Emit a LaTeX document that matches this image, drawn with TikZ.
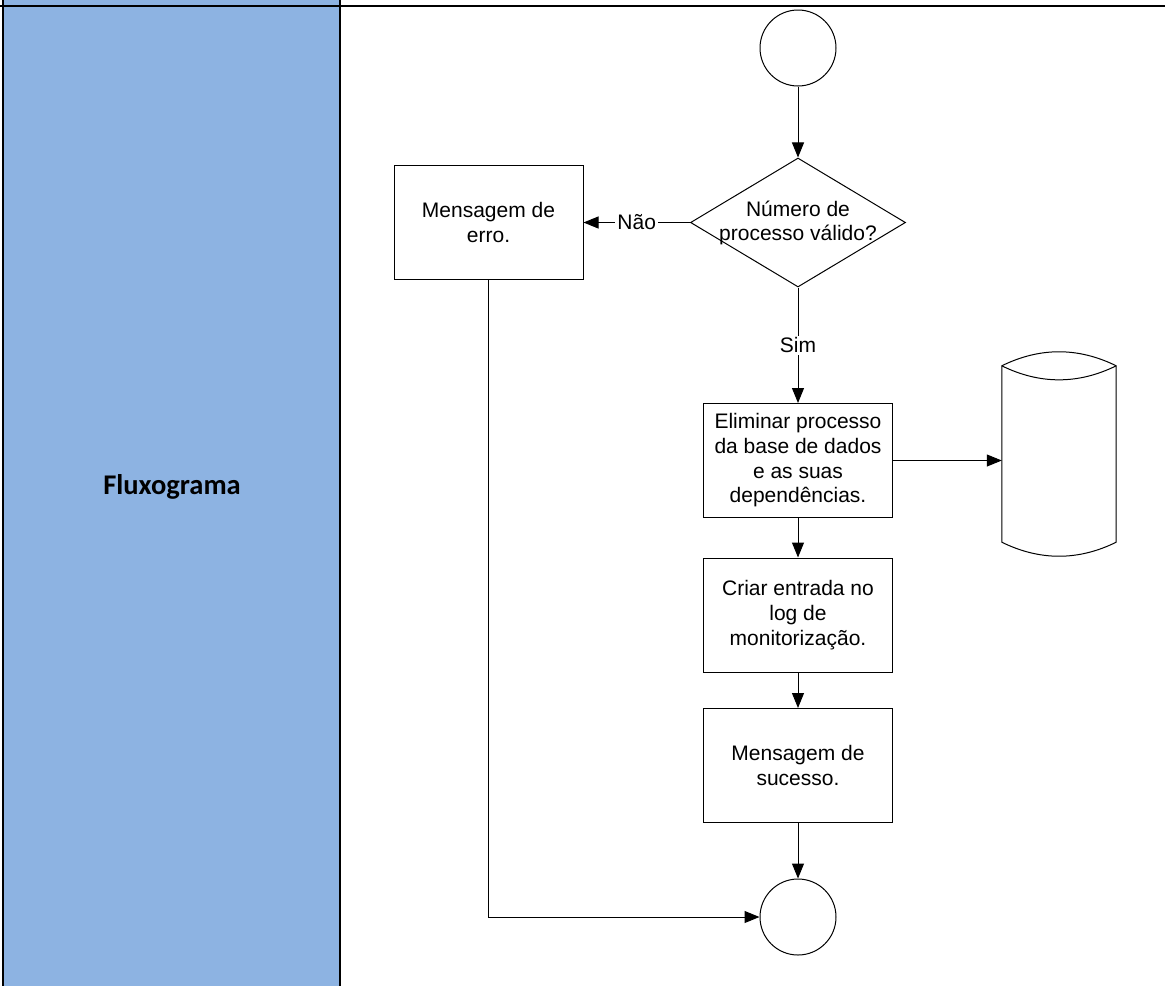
\documentclass[tikz,border=0pt]{standalone}
\usepackage{fontspec}
\setmainfont{Liberation Sans}
\newfontfamily\calibri{Carlito}
\usetikzlibrary{shapes.geometric,arrows.meta}
\definecolor{laneblue}{RGB}{141,179,226}
\tikzset{
  flowline/.style={line width=1pt, -{Triangle[length=15pt,width=12pt]}},
  flowtext/.style={align=center, font=\fontsize{21}{24.7}\selectfont, inner sep=0pt},
  proc/.style={flowtext, draw, line width=1pt, rectangle, minimum width=189pt, minimum height=114pt},
  term/.style={draw, line width=1pt, circle, minimum size=76pt, inner sep=0pt},
  decision/.style={draw, line width=1pt, diamond, minimum width=215pt, minimum height=129pt, inner sep=0pt},
  lbl/.style={flowtext, fill=white, inner sep=2pt},
}
\begin{document}
\begin{tikzpicture}[x=1pt,y=-1pt]
      \useasboundingbox (0,0) rectangle (1165,986);
      % lane
      \fill[laneblue] (3,0) rectangle (340,986);
      \draw[line width=2pt] (2.5,0) -- (2.5,986);
      \draw[line width=2pt] (340,0) -- (340,986);
      \draw[line width=2.5pt] (0,6) -- (1165,6);
      \node[font=\calibri\bfseries\fontsize{28.5}{34}\selectfont] (lane) at (172,487) {Fluxograma};
      % flow
      \node[term] (inicio) at (798,48) {};
      \node[decision] (valido) at (798,222.5) {};
      \node[flowtext] (valido-txt) at (798,223) {Número de\\processo válido?};
      \node[proc] (erro) at (488.5,222.5) {Mensagem de\\erro.};
      \node[proc] (elim) at (798,460.5) {Eliminar processo\\da base de dados\\e as suas\\dependências.};
      \node[proc] (criar) at (798,615) {Criar entrada no\\log de\\monitorização.};
      \node[proc] (sucesso) at (798,765.5) {Mensagem de\\sucesso.};
      \node[term] (fim) at (798,917) {};
      % base de dados
      \node[minimum width=114pt, minimum height=176pt, inner sep=0pt] (bd) at (1059,454) {};
      \draw[line width=1pt] (bd.north west) .. controls +(38,-18.7) and +(-38,-18.7) .. (bd.north east)
        -- (bd.south east) .. controls +(-38,18.7) and +(38,18.7) .. (bd.south west) -- cycle;
      \draw[line width=1pt] (bd.north west) .. controls +(38,18.7) and +(-38,18.7) .. (bd.north east);
      \begin{scope}[flowline]
        \draw (inicio) to (valido);
        \draw (valido) -- node[lbl] (nao) {Não} (erro);
        \draw (valido) -- node[lbl] (sim) {Sim} (elim);
        \draw (elim) -- (elim.east -| bd.west);
        \draw (elim) to (criar);
        \draw (criar) to (sucesso);
        \draw (sucesso) to (fim);
        \draw (erro) |- (fim);
      \end{scope}
    \end{tikzpicture}
\end{document}
